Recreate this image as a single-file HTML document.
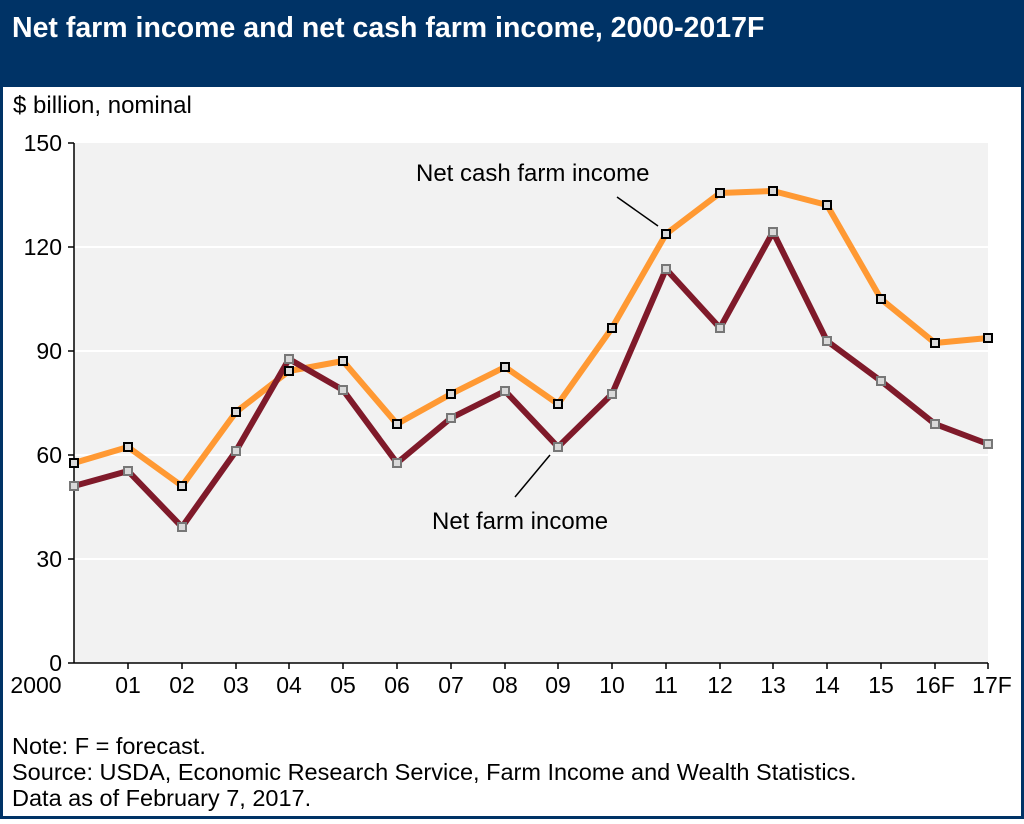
<!DOCTYPE html>
<html><head><style>
body{margin:0;width:1024px;height:819px;overflow:hidden;background:#fff;font-family:"Liberation Sans",Arial,sans-serif}
</style></head><body>
<svg width="1024" height="819" xmlns="http://www.w3.org/2000/svg" font-family="Liberation Sans, Arial, sans-serif">
<rect x="0" y="0" width="1024" height="819" fill="#003366"/>
<rect x="3" y="87" width="1018" height="729" fill="#fff"/>
<text x="12" y="37" fill="#fff" font-size="28.5" font-weight="bold">Net farm income and net cash farm income, 2000-2017F</text>
<text x="13" y="113" font-size="24" fill="#000">$ billion, nominal</text>
<rect x="74" y="143" width="914" height="520" fill="#f2f2f2"/>
<g stroke="#fff" stroke-width="2">
<line x1="74" x2="988" y1="559" y2="559"/><line x1="74" x2="988" y1="455" y2="455"/>
<line x1="74" x2="988" y1="351" y2="351"/><line x1="74" x2="988" y1="247" y2="247"/>
</g>
<g stroke="#000" stroke-width="1.5">
<line x1="74" y1="143" x2="74" y2="663"/><line x1="74" y1="663" x2="988" y2="663"/>
<line x1="68" x2="74" y1="143" y2="143"/><line x1="68" x2="74" y1="247" y2="247"/><line x1="68" x2="74" y1="351" y2="351"/><line x1="68" x2="74" y1="455" y2="455"/><line x1="68" x2="74" y1="559" y2="559"/><line x1="68" x2="74" y1="663" y2="663"/>
<path d="M128 663v6M182 663v6M236 663v6M289 663v6M343 663v6M397 663v6M451 663v6M505 663v6M558 663v6M612 663v6M666 663v6M720 663v6M773 663v6M827 663v6M881 663v6M935 663v6M988 663v6"/>
</g>
<g font-size="23" text-anchor="end" fill="#000">
<text x="62" y="151">150</text><text x="62" y="255">120</text><text x="62" y="359">90</text><text x="62" y="463">60</text><text x="62" y="567">30</text><text x="62" y="671">0</text>
</g>
<g font-size="23" text-anchor="middle" fill="#000">
<text x="36" y="693">2000</text><text x="128" y="693">01</text><text x="182" y="693">02</text><text x="236" y="693">03</text><text x="289" y="693">04</text><text x="343" y="693">05</text><text x="397" y="693">06</text><text x="451" y="693">07</text><text x="505" y="693">08</text><text x="558" y="693">09</text><text x="612" y="693">10</text><text x="666" y="693">11</text><text x="720" y="693">12</text><text x="773" y="693">13</text><text x="827" y="693">14</text><text x="881" y="693">15</text><text x="935" y="693">16F</text><text x="992" y="693">17F</text>
</g>
<polyline fill="none" stroke="#ff9933" stroke-width="6" stroke-linejoin="round" points="74,463 128,447 182,486 236,412 289,371 343,361 397,424 451,394 505,367 558,404 612,328 666,234 720,193 773,191 827,205 881,299 935,343 988,338"/>
<polyline fill="none" stroke="#7f1a2a" stroke-width="6" stroke-linejoin="round" points="74,486 128,471 182,527 236,451 289,359 343,390 397,463 451,418 505,391 558,447 612,394 666,269 720,328 773,232 827,341 881,381 935,424 988,444"/>
<g fill="#d9d9d9" stroke="#000" stroke-width="2">
<rect x="70" y="459" width="8" height="8"/><rect x="124" y="443" width="8" height="8"/><rect x="178" y="482" width="8" height="8"/><rect x="232" y="408" width="8" height="8"/><rect x="285" y="367" width="8" height="8"/><rect x="339" y="357" width="8" height="8"/><rect x="393" y="420" width="8" height="8"/><rect x="447" y="390" width="8" height="8"/><rect x="501" y="363" width="8" height="8"/><rect x="554" y="400" width="8" height="8"/><rect x="608" y="324" width="8" height="8"/><rect x="662" y="230" width="8" height="8"/><rect x="716" y="189" width="8" height="8"/><rect x="769" y="187" width="8" height="8"/><rect x="823" y="201" width="8" height="8"/><rect x="877" y="295" width="8" height="8"/><rect x="931" y="339" width="8" height="8"/><rect x="984" y="334" width="8" height="8"/>
</g>
<g fill="#d9d9d9" stroke="#777" stroke-width="2">
<rect x="70" y="482" width="8" height="8"/><rect x="124" y="467" width="8" height="8"/><rect x="178" y="523" width="8" height="8"/><rect x="232" y="447" width="8" height="8"/><rect x="285" y="355" width="8" height="8"/><rect x="339" y="386" width="8" height="8"/><rect x="393" y="459" width="8" height="8"/><rect x="447" y="414" width="8" height="8"/><rect x="501" y="387" width="8" height="8"/><rect x="554" y="443" width="8" height="8"/><rect x="608" y="390" width="8" height="8"/><rect x="662" y="265" width="8" height="8"/><rect x="716" y="324" width="8" height="8"/><rect x="769" y="228" width="8" height="8"/><rect x="823" y="337" width="8" height="8"/><rect x="877" y="377" width="8" height="8"/><rect x="931" y="420" width="8" height="8"/><rect x="984" y="440" width="8" height="8"/>
</g>
<line x1="617" y1="197" x2="658" y2="226" stroke="#000" stroke-width="1.5"/>
<line x1="515" y1="497" x2="550" y2="455" stroke="#000" stroke-width="1.5"/>
<text x="416" y="181" font-size="24">Net cash farm income</text>
<text x="432" y="529" font-size="24">Net farm income</text>
<g font-size="23.5" fill="#000">
<text x="12" y="754">Note: F = forecast.</text>
<text x="12" y="780">Source: USDA, Economic Research Service, Farm Income and Wealth Statistics.</text>
<text x="12" y="806">Data as of February 7, 2017.</text>
</g>
</svg>
</body></html>
